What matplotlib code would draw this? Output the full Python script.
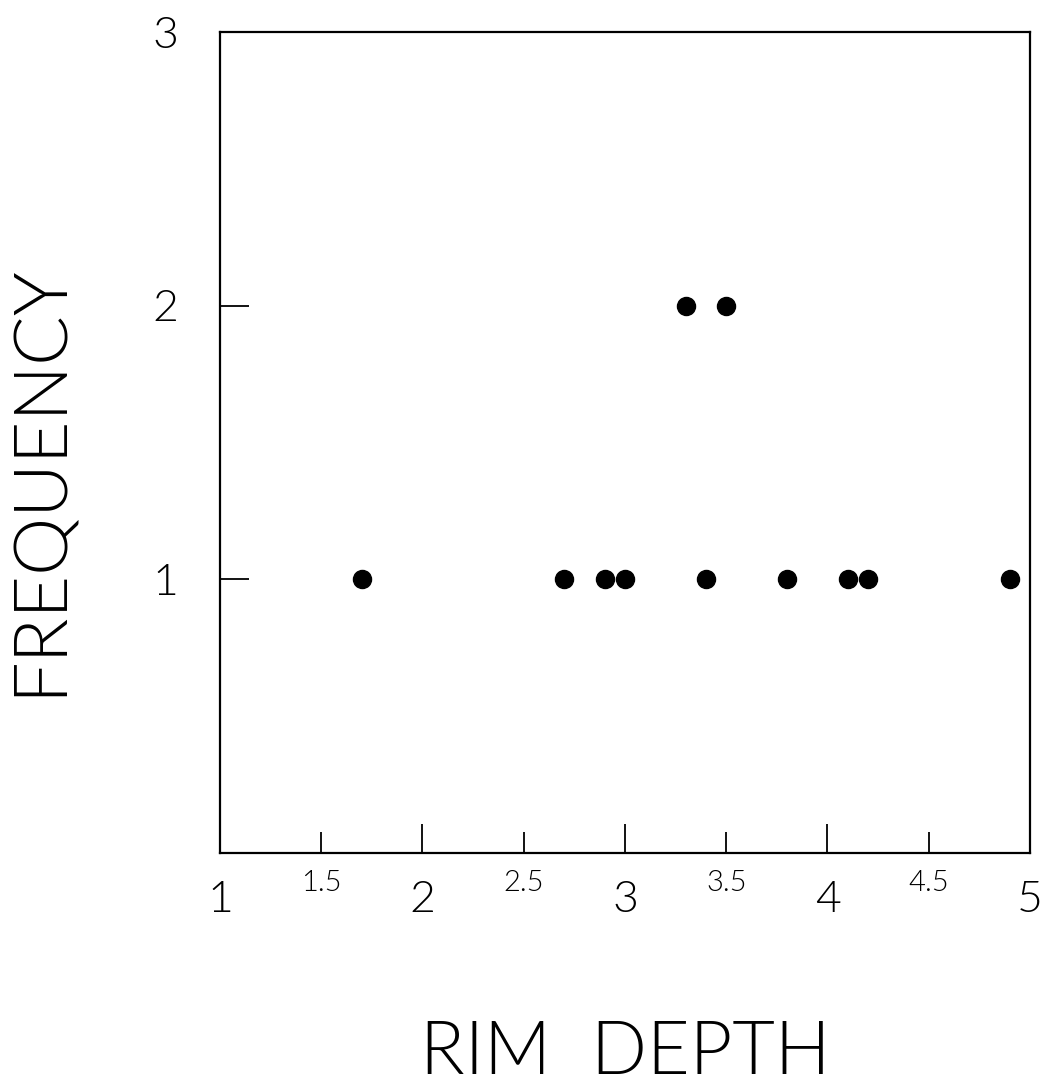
import matplotlib
matplotlib.use('Agg')
import matplotlib.pyplot as plt
from matplotlib.ticker import FixedLocator, FixedFormatter

# rim depth values and how many sherds share them
rim_depth = [1.7, 2.7, 2.9, 3.0, 3.3, 3.4, 3.5, 3.8, 4.1, 4.2, 4.9]
frequency = [1, 1, 1, 1, 2, 1, 2, 1, 1, 1, 1]

x_major = [1, 2, 3, 4, 5]
x_minor = [1.5, 2.5, 3.5, 4.5]
y_ticks = [1, 2, 3]

plt.rcParams['font.family'] = ['Lato', 'DejaVu Sans']
plt.rcParams['font.weight'] = 300

fig = plt.figure(figsize=(10.54, 10.86), dpi=100)
ax = fig.add_axes([0.2087, 0.2145, 0.7685, 0.756])

ax.plot(rim_depth, frequency, 'o', color='black', markersize=13)

ax.set_xlim(1, 5)
ax.set_ylim(0, 3)

ax.xaxis.set_major_locator(FixedLocator(x_major))
ax.xaxis.set_major_formatter(FixedFormatter([str(v) for v in x_major]))
ax.xaxis.set_minor_locator(FixedLocator(x_minor))
ax.xaxis.set_minor_formatter(FixedFormatter([str(v) for v in x_minor]))
ax.yaxis.set_major_locator(FixedLocator(y_ticks))
ax.yaxis.set_major_formatter(FixedFormatter([str(v) for v in y_ticks]))

ax.tick_params(axis='x', which='major', direction='in', length=21, width=1.3,
               labelsize=32, pad=20)
ax.tick_params(axis='x', which='minor', direction='in', length=15, width=1.3,
               labelsize=21, pad=12)
ax.tick_params(axis='y', which='major', direction='in', length=21, width=1.3,
               labelsize=32, pad=30)

for s in ax.spines.values():
    s.set_linewidth(1.6)

fig.text(0.038, 0.558, 'FREQUENCY', rotation=90, ha='center', va='center',
         fontsize=53)
fig.text(0.593, 0.03, 'RIM  DEPTH', ha='center', va='center', fontsize=53)

fig.savefig('out.png', dpi=100)
